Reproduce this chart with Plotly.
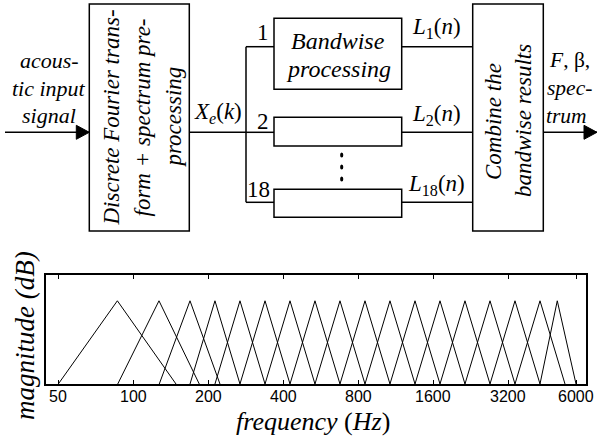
import math
import plotly.graph_objects as go

W, H = 597, 441

# ---- filter bank data (Hz) ----
band_low = [50, 86.6, 127.1, 168.9, 212.7, 268, 337.8, 425.5, 536, 675.4, 851, 1072, 1351, 1702, 2144, 2702, 3404, 4289]
band_center = [86.3, 126.8, 168.9, 212.7, 268, 337.8, 425.5, 536, 675.4, 851, 1072, 1351, 1702, 2144, 2702, 3404, 4289, 5032]
band_high = [148.4, 184, 222.8, 268, 337.8, 425.5, 536, 675.4, 851, 1072, 1351, 1702, 2144, 2702, 3404, 4289, 5404, 5984]
band_peak = 1.0

tick_vals = [50, 100, 200, 400, 800, 1600, 3200, 6000]
tick_text = ["50", "100", "200", "400", "800", "1600", "3200", "6000"]

SERIF = "Liberation Serif, Times New Roman, serif"
SANS = "Liberation Sans, Arial, sans-serif"


def px(x):
    return x / W


def py(y):
    return 1 - y / H


fig = go.Figure()
for lo, c, hi in zip(band_low, band_center, band_high):
    fig.add_trace(go.Scatter(x=[lo, c, hi], y=[0, band_peak, 0], mode="lines",
                             line=dict(color="black", width=1), showlegend=False,
                             hoverinfo="skip"))

shapes = []
LW = 1.5


def line(x0, y0, x1, y1, w=LW):
    shapes.append(dict(type="line", xref="paper", yref="paper",
                       x0=px(x0), y0=py(y0), x1=px(x1), y1=py(y1),
                       line=dict(color="black", width=w)))


def rect(x0, y0, x1, y1, w=LW):
    shapes.append(dict(type="rect", xref="paper", yref="paper",
                       x0=px(x0), y0=py(y0), x1=px(x1), y1=py(y1),
                       line=dict(color="black", width=w), fillcolor="rgba(0,0,0,0)"))


def arrowhead(tipx, y, length=13, half=7):
    path = "M {},{} L {},{} L {},{} Z".format(
        px(tipx), py(y), px(tipx - length), py(y - half), px(tipx - length), py(y + half))
    shapes.append(dict(type="path", xref="paper", yref="paper", path=path,
                       fillcolor="black", line=dict(color="black", width=1)))


def dot(x, y, rx=1.6, ry=2.6):
    shapes.append(dict(type="circle", xref="paper", yref="paper",
                       x0=px(x - rx), y0=py(y - ry), x1=px(x + rx), y1=py(y + ry),
                       fillcolor="black", line=dict(color="black", width=0)))


# boxes
rect(89.3, 4, 189.3, 231)      # DFT
rect(472.7, 4, 543.3, 231)     # combine
rect(274, 18.3, 401.7, 89.3)   # band 1
rect(274, 117.3, 401.7, 146)   # band 2
rect(274, 189.3, 401.7, 217.3) # band 18

# signal lines
line(5, 132.3, 89.3, 132.3)
arrowhead(89.3, 132.3)
line(189.3, 132.3, 246, 132.3)
line(246, 46.7, 246, 202.3)
for yy in (46.7, 132.3, 202.3):
    line(246, yy, 274, yy)
    line(401.7, yy, 472.7, yy)
line(543.3, 132.3, 597, 132.3)
arrowhead(597, 132.3)
for yy in (155, 167, 179):
    dot(341.7, yy)

ann = []


def text(x, y, s, size=23, angle=0, family=SERIF):
    ann.append(dict(xref="paper", yref="paper", x=px(x), y=py(y), text=s,
                    showarrow=False, xanchor="center", yanchor="middle",
                    textangle=angle, font=dict(family=family, size=size, color="black")))


# left input text
text(49, 60, "<i>acous-</i>", size=22)
text(49, 88, "<i>tic input</i>", size=22)
text(49, 116, "<i>signal</i>", size=22)
# DFT rotated
text(111, 117.5, "<i>Discrete Fourier trans-</i>", angle=-90)
text(142, 117.5, "<i>form + spectrum pre-</i>", angle=-90)
text(173, 117.5, "<i>processing</i>", angle=-90)
# Xe(k)
text(218, 113, "<i>X</i><sub><i>e</i></sub>(<i>k</i>)")
# branch numbers
text(263, 33, "1")
text(263, 121, "2")
text(258, 190, "18")
# band box text
text(338, 41, "<i>Bandwise</i>", size=24)
text(338, 69, "<i>processing</i>", size=24)
# L labels
text(436, 28, "<i>L</i><sub>1</sub>(<i>n</i>)")
text(436, 115, "<i>L</i><sub>2</sub>(<i>n</i>)")
text(436, 185, "<i>L</i><sub>18</sub>(<i>n</i>)")
# combine rotated
text(493, 121, "<i>Combine the</i>", angle=-90)
text(523, 121, "<i>bandwise results</i>", angle=-90)
# output text
text(569.5, 60, "<i>F</i>, β,", size=21.5)
text(569.5, 88, "<i>spec-</i>", size=21.5)
text(566, 116, "<i>trum</i>", size=21.5)
# axis titles
text(25, 336, "<i>magnitude (dB)</i>", size=27, angle=-90)
text(313, 421, "<i>frequency</i> (<i>Hz</i>)", size=26)

# x tick labels placed just under the axis
for v, t in zip(tick_vals, tick_text):
    ann.append(dict(xref="x", yref="paper", x=math.log10(v), y=py(396.5), text=t,
                    showarrow=False, xanchor="center", yanchor="middle",
                    font=dict(family=SANS, size=16, color="black")))

fig.update_layout(
    width=W, height=H,
    margin=dict(l=0, r=0, t=0, b=0, pad=0),
    paper_bgcolor="white", plot_bgcolor="white",
    shapes=shapes, annotations=ann,
    showlegend=False,
    xaxis=dict(type="log", range=[1.6508, 3.817],
               domain=[px(46.3), px(586)],
               tickvals=tick_vals, ticktext=tick_text, showticklabels=False,
               ticks="inside", ticklen=4, tickwidth=1, tickcolor="black",
               showline=True, linecolor="black", linewidth=LW, mirror="ticks",
               showgrid=False, zeroline=False),
    yaxis=dict(range=[0, 1.31], domain=[py(384), py(275)],
               showticklabels=False, ticks="",
               showline=True, linecolor="black", linewidth=LW, mirror=True,
               showgrid=False, zeroline=False),
)

fig.write_html("out.html", config={"displayModeBar": False},
               post_script="document.body.style.margin='0';document.body.style.overflow='hidden';")
